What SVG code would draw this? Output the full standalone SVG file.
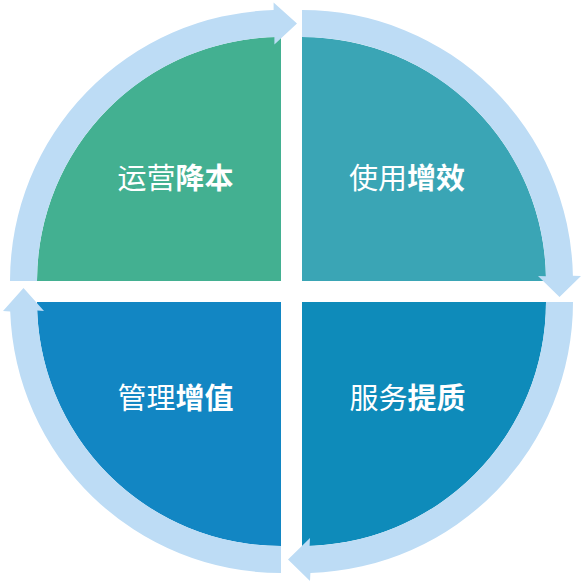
<svg xmlns="http://www.w3.org/2000/svg" width="586" height="585" viewBox="0 0 586 585">
<style>
.lbl{font-family:"Noto Sans CJK SC","Noto Sans",sans-serif;font-size:29px;fill:#ffffff;text-anchor:middle}
.b{font-weight:bold}
.ring{fill:#BDDCF5}
</style>
<rect width="586" height="585" fill="#ffffff"/>
<g id="q1">
<path d="M281 281 L37 281 A244 244 0 0 1 281 37 Z" fill="#43B091"/>
<text class="lbl" x="175.5" y="189">运营<tspan class="b">降本</tspan></text>
</g>
<g id="q2">
<path d="M302 281 L302 37 A244 244 0 0 1 546 281 Z" fill="#3AA5B5"/>
<text class="lbl" x="407" y="189">使用<tspan class="b">增效</tspan></text>
</g>
<g id="q3">
<path d="M302 302 L546 302 A244 244 0 0 1 302 546 Z" fill="#0E8BBA"/>
<text class="lbl" x="407.5" y="409">服务<tspan class="b">提质</tspan></text>
</g>
<g id="q4">
<path d="M281 302 L281 546 A244 244 0 0 1 37 302 Z" fill="#1286C3"/>
<text class="lbl" x="175.5" y="409">管理<tspan class="b">增值</tspan></text>
</g>
<g id="connectors">
<path class="ring" d="M10 281 A271 271 0 0 1 273.6 10.1 L273.6 2.5 L297 23.5 L274.4 44.5 L274.4 37.1 A244 244 0 0 0 37 281 Z"/>
<path class="ring" d="M302 10 A271 271 0 0 1 572.9 275.7 L581 276 L559.5 297 L538 276 L546 276.3 A244 244 0 0 0 302 37 Z"/>
<path class="ring" d="M573 302 A271 271 0 0 1 310.4 572.9 L310 581 L288 559.5 L310 538 L309.6 545.9 A244 244 0 0 0 546 302 Z"/>
<path class="ring" d="M281 573 A271 271 0 0 1 10.2 311.5 L3 311 L23.5 288 L44 311 L37.2 310.5 A244 244 0 0 0 281 546 Z"/>
</g>
</svg>
